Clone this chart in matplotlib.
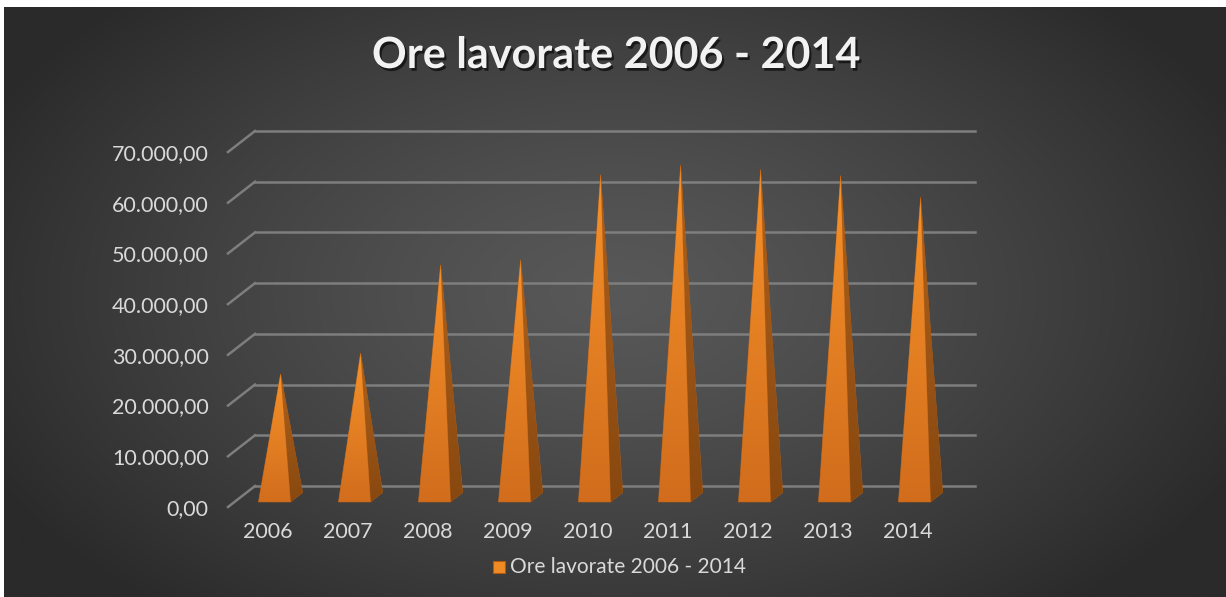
import numpy as np
import matplotlib
matplotlib.use("Agg")
import matplotlib.pyplot as plt
from matplotlib.patches import Polygon
import matplotlib.patheffects as pe

# dati del grafico
anni = ['2006', '2007', '2008', '2009', '2010', '2011', '2012', '2013', '2014']
ore_lavorate = [24300, 28400, 45800, 46800, 63600, 65400, 64600, 63400, 59100]
y_ticks = [0, 10000, 20000, 30000, 40000, 50000, 60000, 70000]
titolo = 'Ore lavorate 2006 - 2014'

W, H = 1226, 597
fig = plt.figure(figsize=(W / 100, H / 100), dpi=100)
plt.rcParams['font.family'] = ['Lato', 'DejaVu Sans']

# sfondo con gradiente radiale
bg = fig.add_axes([4 / W, 0, 1 - 4 / W, 1 - 7 / H])
yy, xx = np.mgrid[0:H, 0:W]
r = np.sqrt(((xx - 610) / 700) ** 2 + ((yy - 290) / 420) ** 2)
r = np.clip(r, 0, 1)
c = 0x58 - (0x58 - 0x2a) * r ** 1.3
bg.imshow(np.dstack([c, c, c]) / 255, aspect='auto', extent=[0, 1, 0, 1])
bg.axis('off')

# assi: piano frontale
x0, x1 = 228, 948
y0, y1 = 507, 152
ax = fig.add_axes([x0 / W, (H - y0) / H, (x1 - x0) / W, (y0 - y1) / H])
ax.set_xlim(-0.5, len(anni) - 0.5)
ax.set_ylim(0, 70000)
ax.patch.set_alpha(0)
for s in ax.spines.values():
    s.set_visible(False)

px_x = (len(anni)) / (x1 - x0)        # unità x per pixel
px_y = 70000 / (y0 - y1)              # unità y per pixel
back_dx, back_dy = 27 * px_x, 21 * px_y

grid_col = '#7e7e7e'
for v in y_ticks:
    ax.plot([-0.5, -0.5 + back_dx], [v, v + back_dy], color=grid_col, lw=1.8, clip_on=False, zorder=1)
    ax.plot([-0.5 + back_dx, len(anni) - 0.5 + back_dx], [v + back_dy, v + back_dy],
            color=grid_col, lw=1.8, clip_on=False, zorder=1)

# piramidi
f_front, f_depth = 0.24, 0.45
half_w = 16 * px_x
grad = np.linspace(0, 1, 256).reshape(-1, 1)
front_cmap = matplotlib.colors.LinearSegmentedColormap.from_list('f', ['#d06c1c', '#f7922a'])
side_cmap = matplotlib.colors.LinearSegmentedColormap.from_list('s', ['#86470f', '#b0621c'])
for i, v in enumerate(ore_lavorate):
    fx, fy = i + f_front * back_dx, f_front * back_dy
    bx, by = i + (f_front + f_depth) * back_dx, (f_front + f_depth) * back_dy
    mx, my = i + (f_front + f_depth / 2) * back_dx, (f_front + f_depth / 2) * back_dy
    apex = (mx, v + my)
    front = Polygon([(fx - half_w, fy), (fx + half_w, fy), apex], closed=True,
                    facecolor='none', edgecolor='none', clip_on=False)
    side = Polygon([(fx + half_w, fy), (bx + half_w, by), apex], closed=True,
                   facecolor='none', edgecolor='none', clip_on=False)
    for poly, cmap in ((side, side_cmap), (front, front_cmap)):
        ax.add_patch(poly)
        im = ax.imshow(grad, cmap=cmap, aspect='auto', origin='lower',
                       extent=[i - 0.5, i + 0.7, 0, v + my], zorder=3)
        im.set_clip_path(poly)
        poly.set_edgecolor('#b86016')
        poly.set_linewidth(0.5)
        poly.set_zorder(3)

ax.set_xlim(-0.5, len(anni) - 0.5)
ax.set_ylim(0, 70000)

ax.set_xticks(range(len(anni)))
ax.set_xticklabels(anni)
ax.set_yticks(y_ticks)
ax.set_yticklabels([f'{v:,.2f}'.replace(',', 'X').replace('.', ',').replace('X', '.') for v in y_ticks])
ax.tick_params(length=0, colors='#d9d9d9', labelsize=15.5)
ax.tick_params(axis='y', pad=14)
ax.tick_params(axis='x', pad=11)

# titolo
fig.text(616 / W, 1 - 55 / H, titolo, ha='center', va='center', color='#f2f2f2',
         fontsize=31, fontweight='bold',
         path_effects=[pe.withSimplePatchShadow(offset=(1.5, -2), shadow_rgbFace='black', alpha=0.6)])

# legenda
fig.patches.append(matplotlib.patches.Rectangle((493 / W, 1 - 573 / H), 12 / W, 12 / H,
                   transform=fig.transFigure, facecolor='#f08a24', edgecolor='#b05a10', lw=0.8))
fig.text(510 / W, 1 - 567 / H, titolo, ha='left', va='center', color='#d9d9d9', fontsize=15)

fig.patch.set_facecolor('white')
fig.savefig('out.png', dpi=100, facecolor='white')
